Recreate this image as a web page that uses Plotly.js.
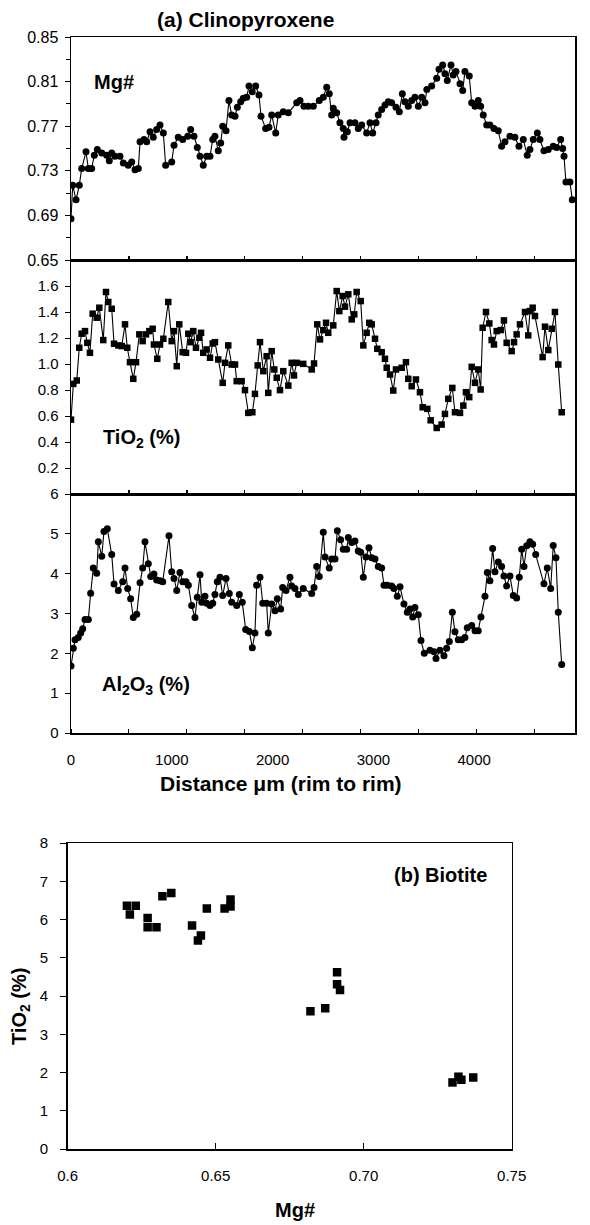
<!DOCTYPE html>
<html>
<head>
<meta charset="utf-8">
<script src="https://cdn.plot.ly/plotly-3.0.1.min.js"></script>
<style>html,body{margin:0;padding:0;background:#fff}#chart{width:590px;height:1225px}</style>
</head>
<body>
<div id="chart"></div>
<script>
// ---- (a) Clinopyroxene: Mg# profile ----
const distMg = [0,17,50,82,106,149,172,205,231,261,305,354,380,404,436,486,519,568,602,635,
  668,685,724,751,784,816,850,883,916,939,999,1022,1064,1108,1158,1187,1220,1253,1280,1312,
  1346,1379,1406,1428,1461,1485,1505,1538,1567,1594,1627,1650,1683,1709,1743,1766,1798,1832,1865,1885,
  1931,1964,1991,2031,2056,2106,2156,
  2239,2272,2311,2354,2404,2463,2503,2537,2562,2586,2602,2636,2668,2701,2708,2741,2768,2817,2850,
  2884,2933,2966,2993,3026,3048,3082,3115,3148,3181,3224,3257,3287,3313,3346,3380,3412,3446,3479,3512,
  3530,3578,3628,3651,3687,3710,3733,3770,3792,3819,3859,3886,3908,3951,3975,4008,4040,4064,4090,4124,
  4156,4196,4239,4272,4305,4355,4404,4444,4487,4526,4553,4586,4626,4652,4692,4735,4784,4818,4858,4878,
  4891,4910,4950,4973];
const mgNumber = [0.687,0.717,0.704,0.717,0.732,0.747,0.732,0.732,0.744,0.749,0.746,0.744,0.739,0.746,0.743,0.743,0.737,0.735,0.738,0.731,
  0.732,0.756,0.758,0.756,0.765,0.760,0.767,0.771,0.764,0.735,0.738,0.753,0.760,0.758,0.761,0.767,0.761,0.751,0.743,0.735,
  0.743,0.743,0.758,0.761,0.748,0.755,0.770,0.766,0.793,0.780,0.779,0.787,0.792,0.795,0.796,0.806,0.801,0.806,0.798,0.779,
  0.768,0.769,0.780,0.764,0.780,0.783,0.782,
  0.791,0.793,0.788,0.788,0.788,0.793,0.796,0.805,0.799,0.780,0.786,0.782,0.773,0.768,0.760,0.765,0.773,0.773,0.768,
  0.771,0.764,0.773,0.764,0.773,0.780,0.785,0.789,0.792,0.791,0.787,0.783,0.799,0.792,0.788,0.793,0.796,0.788,0.796,0.791,
  0.803,0.806,0.813,0.821,0.825,0.817,0.811,0.825,0.816,0.819,0.808,0.802,0.819,0.815,0.791,0.788,0.793,0.788,0.780,0.771,
  0.771,0.768,0.766,0.752,0.756,0.761,0.760,0.752,0.758,0.744,0.749,0.758,0.764,0.758,0.748,0.749,0.752,0.751,0.758,0.750,
  0.743,0.720,0.720,0.704];

// ---- (a) Clinopyroxene: TiO2 profile ----
const distTi = [0,23,57,82,106,139,162,188,215,255,281,320,347,370,404,427,469,503,536,558,
  585,618,645,678,711,744,777,810,823,856,883,916,965,999,1022,1049,1074,1108,1141,1164,
  1187,1213,1240,1273,1290,1312,1346,1379,1406,1428,1461,1505,1528,1560,1594,1627,1644,1693,1726,1759,
  1799,1825,1852,1875,1908,1941,1957,1991,2017,2041,2073,2106,2156,
  2189,2212,2239,2304,2388,2411,2443,2470,2503,2530,2552,2602,2636,2662,2695,2718,2751,2785,2810,
  2834,2874,2900,2933,2959,2983,3016,3039,3082,3115,3132,3165,3197,3224,3281,3323,3346,3380,3422,3462,
  3489,3535,3568,3628,3677,3710,3743,3783,3809,3859,3892,3918,3951,3975,4008,4040,4064,4084,4117,4150,
  4173,4196,4223,4263,4295,4322,4372,4395,4421,4454,4504,4536,4553,4580,4603,4679,4702,4735,4769,4801,
  4834,4868];
const tio2Cpx = [0.572,0.847,0.873,1.125,1.233,1.253,1.163,1.086,1.387,1.356,1.433,1.184,1.554,1.477,1.425,1.156,1.143,1.138,1.305,1.125,
  1.014,0.886,1.014,1.228,1.176,1.228,1.253,1.271,1.150,1.040,1.150,1.194,1.477,1.176,1.253,0.983,1.305,1.091,1.086,1.233,
  1.168,1.253,1.125,1.202,1.240,1.086,1.112,1.048,1.158,1.168,1.035,0.855,1.009,1.143,0.996,0.996,0.868,0.868,0.799,0.624,
  0.629,0.770,0.989,1.168,0.945,1.060,0.778,1.099,0.958,0.894,0.799,0.945,0.834,
  1.009,0.912,1.009,1.001,0.958,1.004,1.305,1.189,1.261,1.317,1.240,1.297,1.561,1.407,1.523,1.441,1.536,1.343,1.382,
  1.554,1.484,1.143,1.240,1.317,1.305,1.194,1.117,1.091,1.040,0.971,0.919,0.796,0.958,0.971,1.014,0.886,0.829,0.881,0.783,
  0.667,0.655,0.567,0.508,0.534,0.616,0.732,0.816,0.629,0.624,0.680,0.783,0.745,0.978,0.855,0.958,0.804,1.279,1.400,1.312,
  1.184,1.150,1.253,1.261,1.335,1.163,1.099,1.168,1.228,1.305,1.400,1.220,1.407,1.433,1.369,1.053,1.287,1.107,1.271,1.400,
  0.996,0.629];

// ---- (a) Clinopyroxene: Al2O3 profile ----
const distAl = [0,23,40,72,96,116,139,172,195,221,255,271,305,327,360,404,427,469,513,536,
  562,592,618,652,685,711,734,767,791,823,850,883,910,972,999,1022,1049,1081,1108,1141,
  1164,1197,1230,1253,1280,1297,1329,1346,1379,1406,1428,1451,1478,1505,1538,1570,1594,1644,1670,1699,
  1733,1769,1799,1825,1842,1875,1902,1941,1957,1991,2024,2047,2080,2100,2133,
  2172,2189,2222,2255,2304,2388,2411,2437,2463,2503,2520,2562,2586,2619,2642,2675,2701,2735,2751,2785,
  2817,2850,2874,2900,2926,2956,2983,3016,3048,3082,3105,3138,3181,3204,3237,3264,3303,3336,3363,3390,
  3412,3445,3472,3505,3561,3601,3621,3660,3700,3727,3753,3783,3809,3842,3876,3908,3931,3975,4008,4040,
  4067,4107,4130,4156,4183,4206,4239,4272,4295,4322,4355,4388,4421,4447,4471,4494,4521,4553,4580,4610,
  4692,4725,4759,4784,4811,4834,4868];
const al2o3Cpx = [1.68,2.13,2.34,2.40,2.51,2.62,2.85,2.85,3.51,4.14,4.01,4.80,4.44,5.06,5.13,4.48,3.74,3.58,3.80,4.14,
  3.63,3.37,2.90,2.98,3.77,4.14,4.80,4.25,3.93,3.99,3.84,3.82,3.80,4.95,4.05,3.88,3.58,4.03,3.80,3.80,
  3.71,3.20,2.90,3.41,3.97,3.28,3.43,3.26,3.20,3.26,3.48,3.80,3.91,3.45,3.88,3.50,3.28,3.20,3.48,3.28,
  2.60,2.55,2.14,2.51,3.71,3.91,3.26,3.26,2.51,3.24,3.07,3.37,3.11,3.65,3.58,
  3.91,3.69,3.63,3.48,3.63,3.50,3.65,4.18,3.93,5.04,4.42,4.14,4.37,4.37,5.08,4.85,4.61,4.61,4.91,4.78,
  4.82,4.57,4.54,3.91,4.42,4.65,4.40,4.37,4.18,4.14,3.71,3.71,3.69,3.63,3.43,3.67,3.24,3.03,3.11,2.91,
  3.15,2.97,2.32,2.00,2.08,2.04,1.87,2.08,1.94,2.13,2.30,3.03,2.54,2.34,2.34,2.40,2.64,2.70,2.57,2.57,
  2.91,3.43,4.03,3.82,4.63,4.05,4.29,4.18,3.94,3.69,3.94,3.45,3.39,3.91,4.61,4.18,4.70,4.80,4.74,4.48,
  3.75,4.14,3.63,4.71,4.40,3.03,1.72];

// ---- (b) Biotite ----
const bioMg = [0.620,0.621,0.623,0.627,0.627,0.630,0.632,0.635,0.642,0.644,0.645,0.647,0.653,0.655,0.655,
  0.682,0.687,0.691,0.691,0.692,0.730,0.732,0.733,0.737];
const bioTiO2 = [6.36,6.13,6.36,6.04,5.80,5.80,6.61,6.69,5.84,5.45,5.58,6.29,6.29,6.52,6.34,
  3.60,3.68,4.62,4.31,4.16,1.74,1.89,1.81,1.87];

// ---- tick labels ----
const distTickVals = [0,1000,2000,3000,4000];
const mgTickVals = [0.65,0.69,0.73,0.77,0.81,0.85];
const tiTickVals = [0.2,0.4,0.6,0.8,1.0,1.2,1.4,1.6];
const alTickVals = [0,1,2,3,4,5,6];
const bioXTickVals = [0.6,0.65,0.70,0.75];
const bioXTickText = ['0.6','0.65','0.70','0.75'];
const bioYTickVals = [0,1,2,3,4,5,6,7,8];

const FONT = 'Liberation Sans, Arial, Helvetica, sans-serif';
const W = 590, H = 1225;
const px = v => v / W, py = v => 1 - v / H;

const lineStyle = {color: '#000', width: 1.1};
const traces = [
  {x: distMg, y: mgNumber, xaxis: 'x3', yaxis: 'y3', mode: 'lines+markers', type: 'scatter',
   line: lineStyle, marker: {symbol: 'circle', size: 7, color: '#000'}},
  {x: distTi, y: tio2Cpx, xaxis: 'x2', yaxis: 'y2', mode: 'lines+markers', type: 'scatter',
   line: lineStyle, marker: {symbol: 'square', size: 6.5, color: '#000'}},
  {x: distAl, y: al2o3Cpx, xaxis: 'x', yaxis: 'y', mode: 'lines+markers', type: 'scatter',
   line: lineStyle, marker: {symbol: 'circle', size: 7, color: '#000'}},
  {x: bioMg, y: bioTiO2, xaxis: 'x4', yaxis: 'y4', mode: 'markers', type: 'scatter',
   marker: {symbol: 'square', size: 8.5, color: '#000'}}
];

const domA = [px(71), px(575)];
const axBase = {showline: true, linecolor: '#000', linewidth: 1.5, mirror: true,
  showgrid: false, zeroline: false, tickcolor: '#000', tickfont: {family: FONT, size: 15, color: '#000'}};

const xTopPanel = Object.assign({}, axBase, {domain: domA, range: [0, 5000], tick0: 0, dtick: 575,
  ticks: 'inside', ticklen: 4, tickwidth: 1.2, showticklabels: false});

const layout = {
  width: W, height: H, showlegend: false,
  margin: {l: 0, r: 0, t: 0, b: 0},
  paper_bgcolor: '#fff', plot_bgcolor: '#fff',
  font: {family: FONT, color: '#000'},
  xaxis3: Object.assign({}, xTopPanel, {anchor: 'y3'}),
  yaxis3: Object.assign({}, axBase, {domain: [py(260), py(37)], anchor: 'x3', range: [0.65, 0.85],
    tickmode: 'array', tickvals: mgTickVals, tickformat: '.2f', ticks: 'outside', ticklen: 5,
    ticklabelstandoff: 3, tickfont: {family: FONT, size: 16, color: '#000'},
    minor: {tickmode: 'linear', tick0: 0.67, dtick: 0.04, ticks: 'outside', ticklen: 4, tickcolor: '#000'}}),
  xaxis2: Object.assign({}, xTopPanel, {anchor: 'y2', matches: 'x3'}),
  yaxis2: Object.assign({}, axBase, {domain: [py(494), py(260)], anchor: 'x2', range: [0, 1.8],
    tickmode: 'array', tickvals: tiTickVals, tickformat: '.1f', ticks: 'outside', ticklen: 5,
    ticklabelstandoff: 3}),
  xaxis: Object.assign({}, axBase, {domain: domA, anchor: 'y', range: [0, 5000], matches: 'x3',
    tickmode: 'array', tickvals: distTickVals, ticks: '', ticklabelstandoff: 12,
    minor: {tickmode: 'linear', tick0: 0, dtick: 575, ticks: 'inside', ticklen: 4, tickcolor: '#000'}}),
  yaxis: Object.assign({}, axBase, {domain: [py(733), py(494)], anchor: 'x', range: [0, 6],
    tickmode: 'array', tickvals: alTickVals, ticks: 'outside', ticklen: 5, ticklabelstandoff: 3}),
  xaxis4: Object.assign({}, axBase, {domain: [px(67.7), px(511.7)], anchor: 'y4', range: [0.6, 0.75],
    tickmode: 'array', tickvals: bioXTickVals, ticktext: bioXTickText, ticks: 'inside', ticklen: 6,
    ticklabelstandoff: 12}),
  yaxis4: Object.assign({}, axBase, {domain: [py(1149), py(843)], anchor: 'x4', range: [0, 8],
    tickmode: 'array', tickvals: bioYTickVals, ticks: 'outside', ticklen: 6, ticklabelstandoff: 9}),
  annotations: [
    {text: '<b>(a) Clinopyroxene</b>', x: px(245), y: py(20), xanchor: 'center', yanchor: 'middle', font: {size: 21}},
    {text: '<b>Mg#</b>', x: px(92), y: py(82), xanchor: 'left', yanchor: 'middle', font: {size: 20}},
    {text: '<b>TiO<sub>2</sub> (%)</b>', x: px(101), y: py(438), xanchor: 'left', yanchor: 'middle', font: {size: 20}},
    {text: '<b>Al<sub>2</sub>O<sub>3</sub> (%)</b>', x: px(100), y: py(685), xanchor: 'left', yanchor: 'middle', font: {size: 20}},
    {text: '<b>Distance μm (rim to rim)</b>', x: px(281), y: py(783), xanchor: 'center', yanchor: 'middle', font: {size: 21}},
    {text: '<b>(b) Biotite</b>', x: px(440), y: py(875), xanchor: 'center', yanchor: 'middle', font: {size: 20}},
    {text: '<b>TiO<sub>2</sub> (%)</b>', x: px(20), y: py(1007), xanchor: 'center', yanchor: 'middle', textangle: -90, font: {size: 20}},
    {text: '<b>Mg#</b>', x: px(295), y: py(1210), xanchor: 'center', yanchor: 'middle', font: {size: 20}}
  ].map(a => Object.assign({xref: 'paper', yref: 'paper', showarrow: false}, a,
      {font: Object.assign({family: FONT, color: '#000'}, a.font)}))
};

Plotly.newPlot('chart', traces, layout, {displayModeBar: false, staticPlot: true});
</script>
</body>
</html>
